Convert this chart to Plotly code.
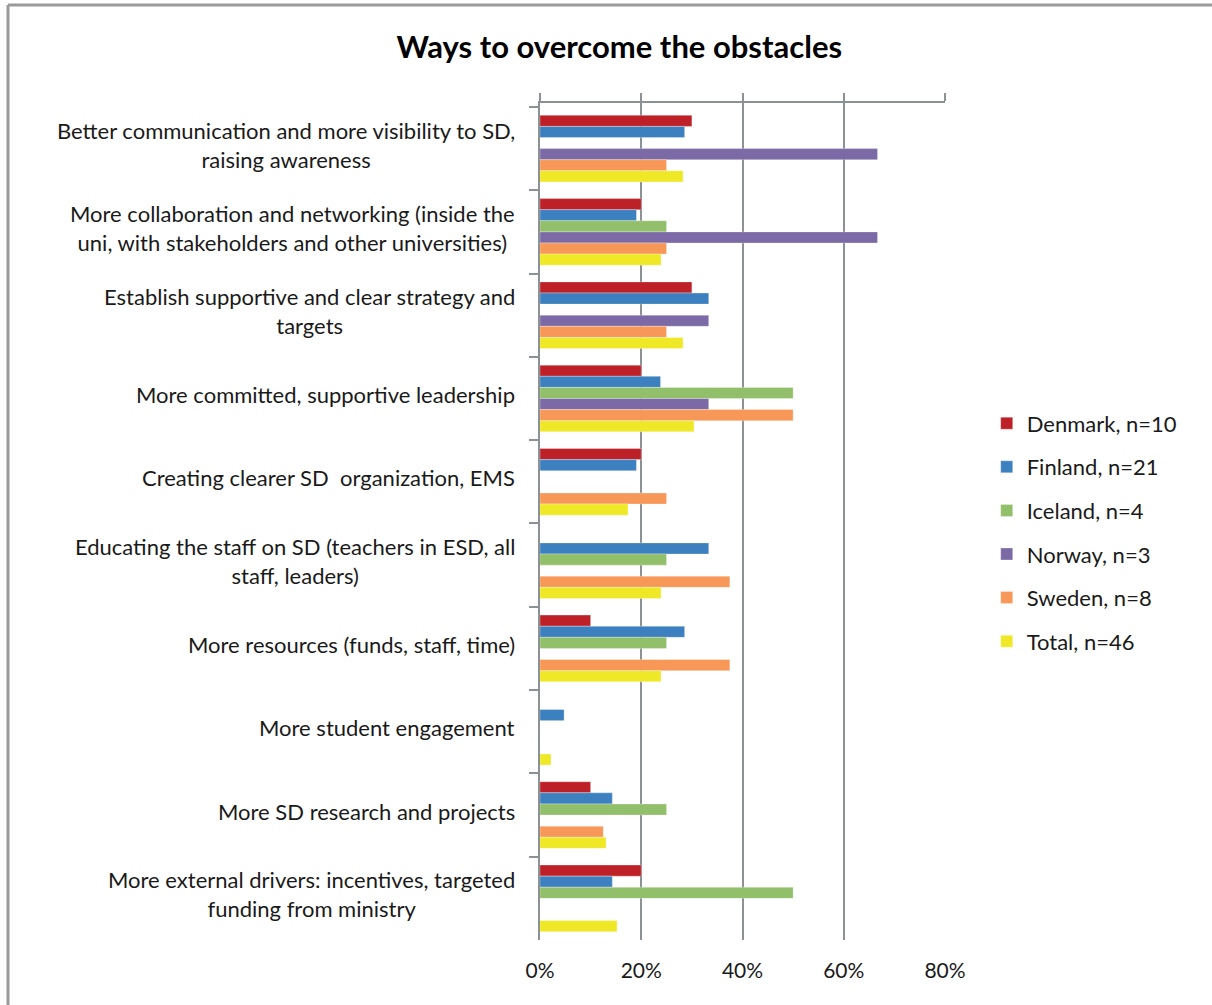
import plotly.graph_objects as go

# Survey categories (top to bottom)
categories = [
    "Better communication and more visibility to SD,<br>raising awareness",
    "More collaboration and networking (inside the<br>uni, with stakeholders and other universities)",
    "Establish supportive and clear strategy and<br>targets",
    "More committed, supportive leadership",
    "Creating clearer SD  organization, EMS",
    "Educating the staff on SD (teachers in ESD, all<br>staff, leaders)",
    "More resources (funds, staff, time)",
    "More student engagement",
    "More SD research and projects",
    "More external drivers: incentives, targeted<br>funding from ministry",
]
cat_keys = [f"c{i}" for i in range(len(categories))]

# Share of respondents per country (fractions)
denmark = [0.30, 0.20, 0.30, 0.20, 0.20, 0.0, 0.10, 0.0, 0.10, 0.20]
finland = [0.2857, 0.1905, 0.3333, 0.2381, 0.1905, 0.3333, 0.2857, 0.0476, 0.1429, 0.1429]
iceland = [0.0, 0.25, 0.0, 0.50, 0.0, 0.25, 0.25, 0.0, 0.25, 0.50]
norway = [0.6667, 0.6667, 0.3333, 0.3333, 0.0, 0.0, 0.0, 0.0, 0.0, 0.0]
sweden = [0.25, 0.25, 0.25, 0.50, 0.25, 0.375, 0.375, 0.0, 0.125, 0.0]
total = [0.2826, 0.2391, 0.2826, 0.3043, 0.1739, 0.2391, 0.2391, 0.0217, 0.1304, 0.1522]

series_names = ["Denmark, n=10", "Finland, n=21", "Iceland, n=4",
                "Norway, n=3", "Sweden, n=8", "Total, n=46"]
series_values = [denmark, finland, iceland, norway, sweden, total]
series_colors = ["#BE2027", "#3C80C0", "#92BF6A", "#7B6AA6", "#F79858", "#EFE826"]

FONT = "Lato"
GRID = "#8C9196"
TEXT = "#1a1a1a"

fig = go.Figure()
for name, vals, col in zip(series_names, series_values, series_colors):
    fig.add_trace(go.Bar(
        y=cat_keys, x=vals, name=name, orientation="h",
        marker=dict(color=col, line=dict(color="rgba(255,255,255,0.6)", width=0.5)),
        legendgroup=name,
    ))

# invisible helper trace so the top axis (tick marks only) is drawn
fig.add_trace(go.Scatter(x=[0], y=[cat_keys[0]], xaxis="x2", mode="markers",
                         marker=dict(opacity=0), showlegend=False, hoverinfo="skip"))

# category labels, centred within a right-aligned block
for key, label in zip(cat_keys, categories):
    fig.add_annotation(
        x=-0.057, xref="paper", y=key, yref="y", yshift=4,
        text=label, showarrow=False, xanchor="right", align="center",
        font=dict(family=FONT, size=22, color=TEXT),
    )

fig.update_layout(
    width=1212, height=1005,
    paper_bgcolor="white", plot_bgcolor="white",
    margin=dict(l=540, r=267, t=103, b=65),
    barmode="group", bargap=0.2, bargroupgap=0,
    title=dict(text="<b>Ways to overcome the obstacles</b>", x=0.511, xanchor="center",
               y=0.953, yanchor="middle",
               font=dict(family=FONT, size=31, color="#000000")),
    font=dict(family=FONT, size=21, color=TEXT),
    xaxis=dict(range=[0, 0.8], dtick=0.2, tickformat=".0%",
               showgrid=True, gridcolor=GRID, gridwidth=2,
               zeroline=False, showline=False, ticks="",
               ticklabelstandoff=16,
               tickfont=dict(family=FONT, size=21, color=TEXT)),
    xaxis2=dict(overlaying="x", matches="x", side="top", range=[0, 0.8], dtick=0.2,
                showgrid=False, zeroline=False, showline=True, linecolor=GRID, linewidth=2,
                ticks="outside", ticklen=8, tickwidth=2, tickcolor=GRID,
                showticklabels=False),
    yaxis=dict(autorange="reversed", showticklabels=False, showgrid=False,
               showline=True, linecolor=GRID, linewidth=2,
               ticks="outside", tickson="boundaries", ticklen=9, tickwidth=2, tickcolor=GRID,
               zeroline=False),
    legend=dict(x=1.103, xanchor="left", y=0.487, yanchor="middle",
                font=dict(family=FONT, size=22, color=TEXT),
                tracegroupgap=12, itemwidth=30, traceorder="grouped"),
    showlegend=True,
)

# outer frame (top and left edges)
fig.add_shape(type="line", xref="paper", yref="paper",
              x0=(8 - 540) / 405, x1=(1212 - 540) / 405,
              y0=(1005 - 65 - 5) / 837, y1=(1005 - 65 - 5) / 837,
              line=dict(color="#9A9A9A", width=3))
fig.add_shape(type="line", xref="paper", yref="paper",
              x0=(8 - 540) / 405, x1=(8 - 540) / 405,
              y0=(1005 - 65 - 1005) / 837, y1=(1005 - 65 - 5) / 837,
              line=dict(color="#9A9A9A", width=3))

fig.write_html("out.html")
